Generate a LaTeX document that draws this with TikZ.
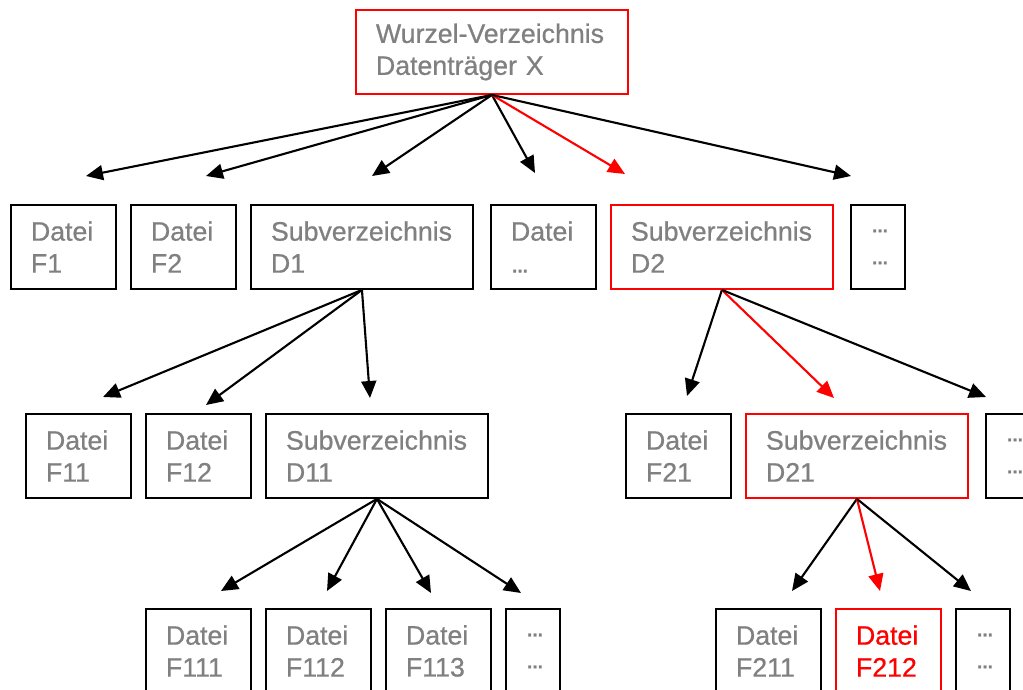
\documentclass[tikz,border=0pt]{standalone}
\usepackage{fontspec}
\setmainfont{Liberation Sans}[UprightFeatures={FakeBold=0.7}]
\usetikzlibrary{arrows.meta}
\definecolor{textgrau}{RGB}{128,128,128}
\definecolor{markrot}{RGB}{255,0,0}
\newcommand{\pkt}{.\kern-1.2pt.\kern-1.2pt.}

\begin{document}
\begin{tikzpicture}[x=0.02cm,y=-0.02cm]
		\tikzstyle{every node}=[font=\fontsize{15.2pt}{18.2pt}\selectfont]
		\tikzstyle{kasten}=[draw=black, line width=1.1pt, anchor=north west, minimum height=1.68cm, inner xsep=0.4cm, inner ysep=0pt, text=textgrau, align=left]
		\tikzstyle{schmal}=[kasten, text width=1.3cm]
		\tikzstyle{breit}=[kasten, text width=3.64cm]
		\tikzstyle{rest}=[kasten, text width=0.28cm]
		\tikzstyle{pfeil}=[line width=1.2pt, -{Triangle[length=0.34cm, width=0.3cm]}]
		
		\useasboundingbox (0,0) rectangle (1023,689);
		
		\node[kasten, draw=markrot, text width=4.64cm] (root) at (355,9) {Wurzel-Verzeichnis\\Datenträger X};
		
		\node[schmal] (f1) at (10,204) {Datei\\F1};
		\node[schmal] (f2) at (130,204) {Datei\\F2};
		\node[breit] (d1) at (250,204) {Subverzeichnis\\D1};
		\node[schmal] (fx) at (490,204) {Datei\\\pkt};
		\node[breit, draw=markrot] (d2) at (610,204) {Subverzeichnis\\D2};
		\node[rest] (r1) at (850,204) {\pkt\\\pkt};
		
		\node[schmal] (f11) at (25,413) {Datei\\F11};
		\node[schmal] (f12) at (145,413) {Datei\\F12};
		\node[breit] (d11) at (265,413) {Subverzeichnis\\D11};
		\node[schmal] (f21) at (625,413) {Datei\\F21};
		\node[breit, draw=markrot] (d21) at (745,413) {Subverzeichnis\\D21};
		\node[rest] (r2) at (985,413) {\pkt\\\pkt};
		
		\node[schmal] (f111) at (145,608) {Datei\\F111};
		\node[schmal] (f112) at (265,608) {Datei\\F112};
		\node[schmal] (f113) at (385,608) {Datei\\F113};
		\node[rest] (r3) at (505,608) {\pkt\\\pkt};
		\node[schmal] (f211) at (715,608) {Datei\\F211};
		\node[schmal, draw=markrot, text=markrot] (f212) at (835,608) {Datei\\F212};
		\node[rest] (r4) at (955,608) {\pkt\\\pkt};
		
		\coordinate (zf1) at (86,176);
		\coordinate (zf2) at (206,176);
		\coordinate (zd1) at (372,176);
		\coordinate (zfx) at (535,173);
		\coordinate (zd2) at (625,174);
		\coordinate (zr1) at (851,176);
		
		\coordinate (zf11) at (103,397);
		\coordinate (zf12) at (206,405);
		\coordinate (zd11) at (370,398);
		\coordinate (zf21) at (687,396);
		\coordinate (zd21) at (834,398);
		\coordinate (zr2) at (986,397);
		
		\coordinate (zf111) at (221,591);
		\coordinate (zf112) at (327,591);
		\coordinate (zf113) at (431,593);
		\coordinate (zr3) at (521,593);
		\coordinate (zf211) at (792,591);
		\coordinate (zf212) at (880,591);
		\coordinate (zr4) at (971,591);
		
		\draw[pfeil] (root.south) -- (zf1);
		\draw[pfeil] (root.south) -- (zf2);
		\draw[pfeil] (root.south) -- (zd1);
		\draw[pfeil] (root.south) -- (zfx);
		\draw[pfeil, markrot] (root.south) -- (zd2);
		\draw[pfeil] (root.south) -- (zr1);
		
		\draw[pfeil] (d1.south) -- (zf11);
		\draw[pfeil] (d1.south) -- (zf12);
		\draw[pfeil] (d1.south) -- (zd11);
		
		\draw[pfeil] (d2.south) -- (zf21);
		\draw[pfeil, markrot] (d2.south) -- (zd21);
		\draw[pfeil] (d2.south) -- (zr2);
		
		\draw[pfeil] (d11.south) -- (zf111);
		\draw[pfeil] (d11.south) -- (zf112);
		\draw[pfeil] (d11.south) -- (zf113);
		\draw[pfeil] (d11.south) -- (zr3);
		
		\draw[pfeil] (d21.south) -- (zf211);
		\draw[pfeil, markrot] (d21.south) -- (zf212);
		\draw[pfeil] (d21.south) -- (zr4);
		
	\end{tikzpicture}
\end{document}
